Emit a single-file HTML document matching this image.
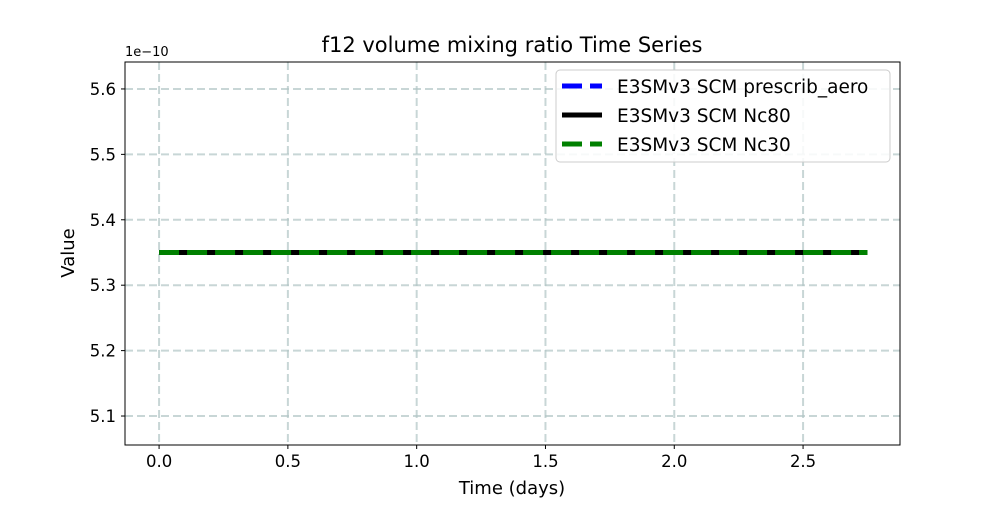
<!DOCTYPE html>
<html><head><meta charset="utf-8"><style>body{margin:0;background:#fff}svg{font-family:"DejaVu Sans","Liberation Sans",sans-serif}</style></head>
<body>
<svg id="chart" width="1000" height="500">
<rect width="1000" height="500" fill="#fff"/>
<g id="grid"></g>
<g id="series"></g>
<rect x="125" y="62" width="775" height="383" fill="none" stroke="#000" stroke-width="1"/>
<g id="ticks"></g>
<text x="512" y="52" font-size="21" text-anchor="middle">f12 volume mixing ratio Time Series</text>
<text x="125" y="56" font-size="13">1e−10</text>
<text x="512" y="494" font-size="18" text-anchor="middle">Time (days)</text>
<text x="74" y="253" font-size="18" text-anchor="middle" transform="rotate(-90 74 253)">Value</text>
<g>
<rect x="556" y="70" width="334" height="92" rx="4" fill="#fff" fill-opacity="0.85" stroke="#ccc"/>
<g><line x1="562" y1="86" x2="602" y2="86" stroke="#0000ff" stroke-width="5" stroke-dasharray="20,8"/><text x="617" y="93" font-size="18.5">E3SMv3 SCM prescrib_aero</text></g>
<g><line x1="562" y1="115" x2="602" y2="115" stroke="#000" stroke-width="5"/><text x="617" y="122" font-size="18.5">E3SMv3 SCM Nc80</text></g>
<g><line x1="562" y1="144" x2="602" y2="144" stroke="#008000" stroke-width="5" stroke-dasharray="20,8"/><text x="617" y="151" font-size="18.5">E3SMv3 SCM Nc30</text></g>
</g>
</svg>
<script>
const xTicks=[0,0.5,1,1.5,2,2.5];
const xTickLabels=["0.0","0.5","1.0","1.5","2.0","2.5"];
const yTicks=[5.1,5.2,5.3,5.4,5.5,5.6];
const yTickLabels=["5.1","5.2","5.3","5.4","5.5","5.6"];
const times=[0,2.75];
const prescribAero=[5.35,5.35];
const nc80=[5.35,5.35];
const nc30=[5.35,5.35];
const NS="http://www.w3.org/2000/svg";
const L=125,R=900,T=62,B=445;
const xMin=-0.1323,xMax=2.8763,yMin=5.0557,yMax=5.6412;
const xs=v=>L+(v-xMin)/(xMax-xMin)*(R-L);
const ys=v=>B-(v-yMin)/(yMax-yMin)*(B-T);
function mk(tag,attrs,parent){const e=document.createElementNS(NS,tag);for(const k in attrs)e.setAttribute(k,attrs[k]);parent.appendChild(e);return e;}
const grid=document.getElementById('grid'),ticks=document.getElementById('ticks'),ser=document.getElementById('series');
xTicks.forEach((t,i)=>{const x=xs(t);
 const g=mk('line',{x1:x,x2:x,y1:T,y2:B,stroke:'#b0c4c4','stroke-width':2,'stroke-dasharray':'8,4','stroke-opacity':0.7},grid);
 
 
 mk('line',{x1:x,x2:x,y1:B,y2:B+4,stroke:'#000'},ticks);
 const tx=mk('text',{x:x,y:B+22,'font-size':16.5,'text-anchor':'middle'},ticks);tx.textContent=xTickLabels[i];
 
 });
yTicks.forEach((t,i)=>{const y=ys(t);
 const g=mk('line',{x1:L,x2:R,y1:y,y2:y,stroke:'#b0c4c4','stroke-width':2,'stroke-dasharray':'8,4','stroke-opacity':0.7},grid);
 
 
 mk('line',{x1:L-4,x2:L,y1:y,y2:y,stroke:'#000'},ticks);
 const tx=mk('text',{x:L-9,y:y+6,'font-size':16.5,'text-anchor':'end'},ticks);tx.textContent=yTickLabels[i];
 
 });
function path(vals){return vals.map((v,i)=>(i?'L':'M')+xs(times[i])+','+ys(v)).join(' ');}
const p1=mk('path',{d:path(prescribAero),fill:'none',stroke:'#0000ff','stroke-width':5,'stroke-dasharray':'20,8'},ser);


const p2=mk('path',{d:path(nc80),fill:'none',stroke:'#000','stroke-width':5},ser);


const p3=mk('path',{d:path(nc30),fill:'none',stroke:'#008000','stroke-width':5,'stroke-dasharray':'20,8'},ser);


</script>
</body></html>
